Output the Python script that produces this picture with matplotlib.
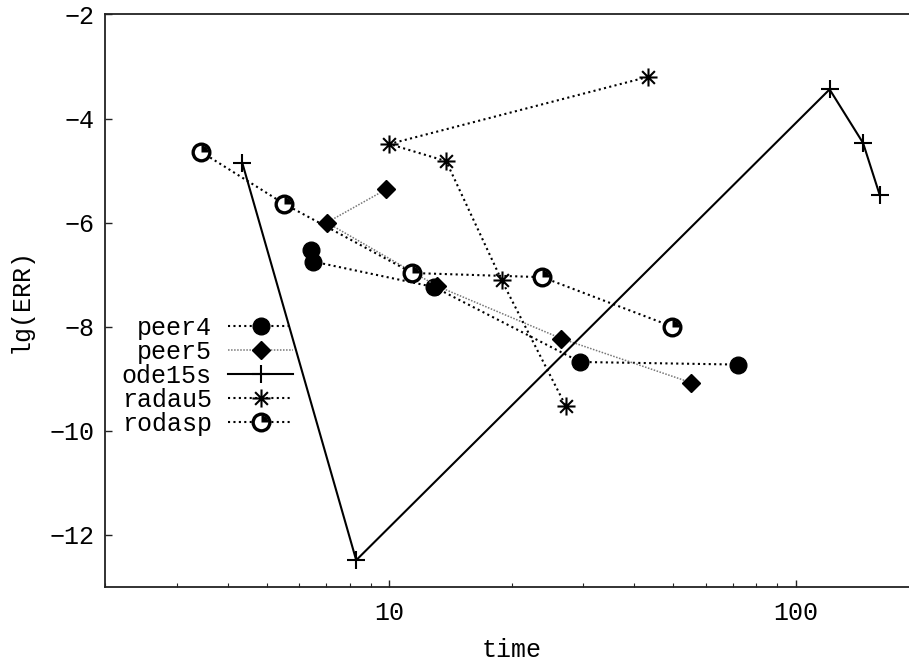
import matplotlib
matplotlib.use("Agg")
import matplotlib.pyplot as plt
from matplotlib.path import Path

plt.rcParams['font.family'] = ['Liberation Mono', 'DejaVu Sans']
plt.rcParams['font.size'] = 18

# data (time, lg(ERR))
peer4_t = [6.41, 6.50, 12.9, 29.5, 72.3]
peer4_err = [-6.53, -6.75, -7.24, -8.68, -8.73]

peer5_t = [9.83, 7.02, 13.1, 26.5, 55.4]
peer5_err = [-5.36, -6.00, -7.22, -8.23, -9.08]

ode15s_t = [4.35, 8.29, 121.2, 146.5, 161.0]
ode15s_err = [-4.86, -12.49, -3.44, -4.47, -5.47]

radau5_t = [43.3, 10.0, 13.8, 18.9, 27.2]
radau5_err = [-3.20, -4.49, -4.82, -7.11, -9.53]

rodasp_t = [3.44, 5.51, 11.4, 23.8, 49.7]
rodasp_err = [-4.64, -5.64, -6.97, -7.05, -8.00]

star = Path([(0, -1), (0, 1), (-1, 0), (1, 0),
             (-0.707, -0.707), (0.707, 0.707), (-0.707, 0.707), (0.707, -0.707)],
            [Path.MOVETO, Path.LINETO] * 4)
quarter = Path.wedge(0, 90)

dots = (0, (1, 1.6))

fig = plt.figure(figsize=(9.09, 6.61), dpi=100)
ax = fig.add_axes([0.1158, 0.1124, 0.8941, 0.8657])

h1, = ax.plot(peer4_t, peer4_err, color='black', lw=1.5, ls=dots,
              marker='o', ms=12, label='peer4')
h2, = ax.plot(peer5_t, peer5_err, color='#777777', lw=1.1, ls=(0, (1, 1)),
              marker='D', ms=9, mfc='black', mec='black', label='peer5')
h3, = ax.plot(ode15s_t, ode15s_err, color='black', lw=1.5,
              marker='+', ms=13, mew=1.5, label='ode15s')
h4, = ax.plot(radau5_t, radau5_err, color='black', lw=1.5, ls=dots,
              marker=star, ms=13, mew=1.5, mfc='none', label='radau5')
h5, = ax.plot(rodasp_t, rodasp_err, color='black', lw=1.5, ls=dots,
              marker='o', ms=12, mfc='white', mec='black', mew=2.4, label='rodasp')
h5b, = ax.plot(rodasp_t, rodasp_err, ls='none', marker=quarter, ms=10,
               mfc='black', mec='none')

ax.set_xscale('log')
ax.set_xlim(2, 200)
ax.set_ylim(-13, -2)
ax.set_yticks([-2, -4, -6, -8, -10, -12])
ax.set_xticks([10, 100])
ax.set_xticklabels(['10', '100'])

ax.spines['right'].set_visible(False)
for s in ax.spines.values():
    s.set_linewidth(1.3)
    s.set_color('#222222')
ax.tick_params(which='both', direction='in', top=False, right=False,
               color='#222222')
ax.tick_params(which='major', length=5, width=1.0)
ax.tick_params(axis='x', which='major', pad=10)
ax.tick_params(axis='y', which='major', pad=8)
ax.tick_params(which='minor', length=3, width=0.8)

ax.set_xlabel('time', labelpad=10)
ax.set_ylabel('lg(ERR)', labelpad=12)

ax.legend([h1, h2, h3, h4, (h5, h5b)],
          ['peer4', 'peer5', 'ode15s', 'radau5', 'rodasp'],
          markerfirst=False, frameon=False, loc='upper right',
          bbox_to_anchor=(0.231, 0.473), borderpad=0, borderaxespad=0,
          handlelength=2.6, handletextpad=0.65, labelspacing=0.0)

fig.savefig('out.png', dpi=100)
